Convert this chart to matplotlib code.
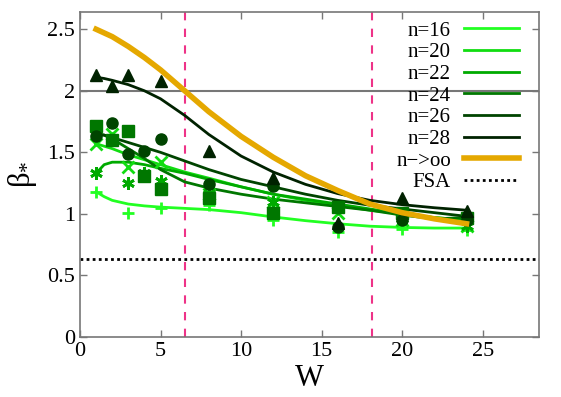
import matplotlib
matplotlib.use("Agg")
import matplotlib.pyplot as plt
import numpy as np

plt.rcParams['font.family'] = ['Liberation Serif', 'DejaVu Serif']
plt.rcParams['mathtext.fontset'] = 'custom'
plt.rcParams['mathtext.rm'] = 'Liberation Serif'
plt.rcParams['mathtext.it'] = 'Liberation Serif:italic'

# ---- data points ----
W16 = [1, 3, 5, 8, 12, 16, 20, 24]
B16 = [1.18, 1.01, 1.05, 1.07, 0.95, 0.85, 0.88, 0.87]
W20 = [1, 2, 3, 5, 8, 12, 16, 20, 24]
B20 = [1.57, 1.65, 1.38, 1.42, 1.16, 1.10, 1.01, 0.95, 0.90]
W22 = [1, 3, 4, 5, 8, 12, 16, 20, 24]
B22 = [1.33, 1.25, 1.33, 1.27, 1.17, 1.10, 1.05, 0.96, 0.90]
W24 = [1, 2, 3, 4, 5, 8, 12, 16, 20, 24]
B24 = [1.71, 1.60, 1.67, 1.31, 1.20, 1.13, 1.01, 1.06, 1.01, 0.97]
W26 = [1, 2, 3, 4, 5, 8, 12, 16, 20, 24]
B26 = [1.63, 1.74, 1.49, 1.51, 1.61, 1.24, 1.23, 0.89, 0.95, 0.95]
W28 = [1, 2, 3, 5, 8, 12, 16, 20, 24]
B28 = [2.13, 2.04, 2.13, 2.08, 1.51, 1.29, 0.93, 1.13, 1.02]

# ---- fitted curves ----
Wc = [1, 1.5, 2, 3, 4, 5, 6.5, 8, 10, 12, 14, 16, 18, 20, 22, 24]
C16 = [1.18, 1.14, 1.11, 1.08, 1.065, 1.055, 1.045, 1.035, 1.01, 0.975, 0.945, 0.92, 0.90, 0.89, 0.885, 0.885]
C20 = [1.57, 1.55, 1.53, 1.48, 1.44, 1.40, 1.34, 1.29, 1.22, 1.16, 1.11, 1.07, 1.03, 1.00, 0.97, 0.95]
C22 = [1.33, 1.40, 1.42, 1.42, 1.40, 1.37, 1.33, 1.28, 1.22, 1.16, 1.12, 1.08, 1.04, 1.00, 0.97, 0.95]
C24 = [1.66, 1.64, 1.61, 1.53, 1.45, 1.36, 1.26, 1.21, 1.16, 1.12, 1.09, 1.06, 1.03, 0.99, 0.96, 0.97]
C26 = [1.64, 1.64, 1.62, 1.58, 1.54, 1.50, 1.43, 1.36, 1.28, 1.22, 1.16, 1.11, 1.07, 1.04, 1.01, 0.98]
C28 = [2.11, 2.10, 2.085, 2.05, 2.00, 1.935, 1.80, 1.645, 1.47, 1.34, 1.24, 1.165, 1.11, 1.075, 1.05, 1.03]
Cinf = [2.50, 2.47, 2.44, 2.36, 2.27, 2.17, 2.00, 1.83, 1.63, 1.46, 1.31, 1.19, 1.08, 1.01, 0.96, 0.92]

labels = ['n=16', 'n=20', 'n=22', 'n=24', 'n=26', 'n=28']
colors = ['#22ff22', '#11dd11', '#00aa00', '#007700', '#004400', '#002200']
markers = ['+', 'x', (6, 2, 0), 's', 'o', '^']
Ws = [W16, W20, W22, W24, W26, W28]
Bs = [B16, B20, B22, B24, B26, B28]
Cs = [C16, C20, C22, C24, C26, C28]

vlines = [6.5, 18.1]
hline = 2.0
fsa = 0.63

fig = plt.figure(figsize=(5.61, 3.97), dpi=100)
ax = fig.add_axes([80/561, 1-337/397, 459/561, 325/397])

ax.axhline(hline, color='#777777', lw=1.5, zorder=1)
for v in vlines:
    ax.axvline(v, color='#ee3388', lw=1.5, ls=(0, (4, 4)), zorder=1)

for W, B, C, lab, col, mk in zip(Ws, Bs, Cs, labels, colors, markers):
    ax.plot(Wc, C, color=col, lw=2, label=lab, zorder=3)
    if mk in ['+', 'x']:
        ax.plot(W, B, ls='none', marker=mk, color=col, ms=8, mew=2, zorder=4)
    elif mk == (6, 2, 0):
        ax.plot(W, B, ls='none', marker=mk, color=col, ms=9, mew=2, zorder=4)
    else:
        ax.plot(W, B, ls='none', marker=mk, color=col, ms=8, zorder=4)

ax.plot(Wc, Cinf, color='#e5a800', lw=4, label='n\u2212>oo', zorder=5)
ax.axhline(fsa, color='black', lw=2, ls=(0, (1, 1.2)), label='FSA', zorder=2)

ax.set_xlim(0, 28.5)
ax.set_ylim(0, 2.64)
ax.set_xticks([0, 5, 10, 15, 20, 25])
ax.set_yticks([0, 0.5, 1, 1.5, 2, 2.5])
ax.set_yticklabels(['0', '0.5', '1', '1.5', '2', '2.5'])
ax.tick_params(direction='in', top=True, right=True, labelsize=16, length=5,
               color='#777777', width=1)
for s in ax.spines.values():
    s.set_color('#777777')
    s.set_linewidth(1.2)

ax.set_xlabel('W', fontsize=22, labelpad=2)
ax.set_ylabel(r'$\mathrm{\beta}_{*}$', fontsize=22, labelpad=6)

leg = ax.legend(loc='upper right', frameon=False, markerfirst=False, fontsize=15,
                handlelength=2.65, labelspacing=0.1, handletextpad=0.6,
                borderaxespad=0.0, bbox_to_anchor=(0.974, 0.998))
for t in leg.get_texts():
    t.set_ha('right')

fig.savefig('out.png', dpi=100)
